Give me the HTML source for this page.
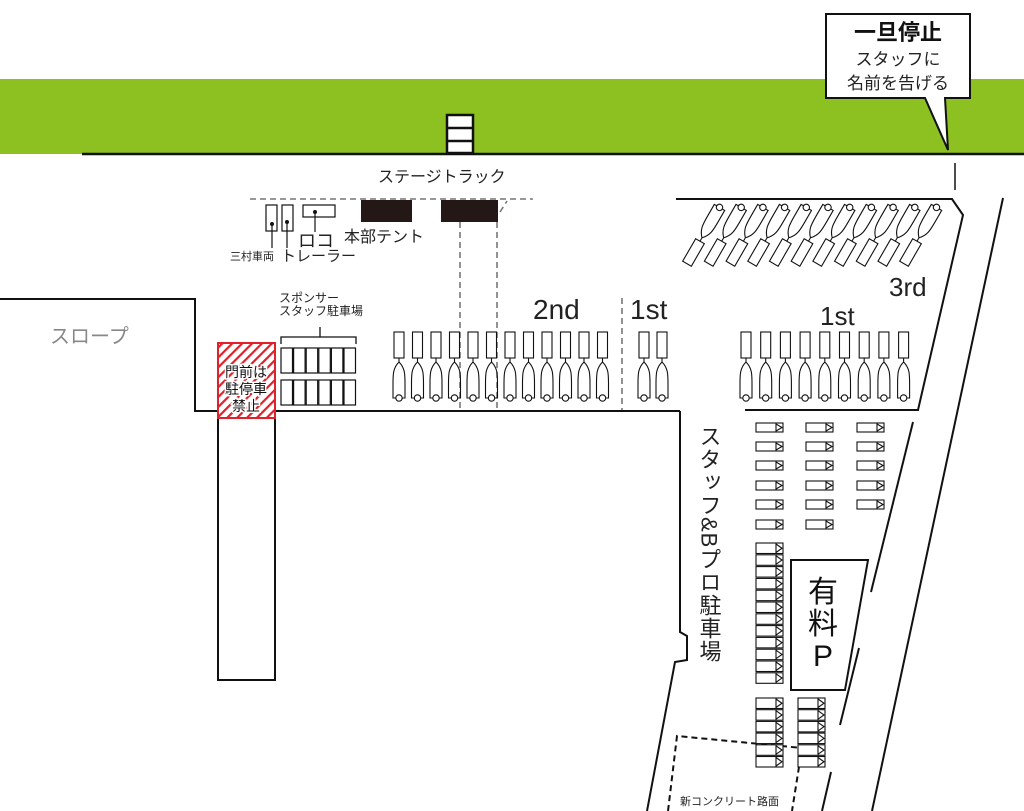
<!DOCTYPE html>
<html><head><meta charset="utf-8">
<style>
html,body{margin:0;padding:0;background:#fff;}
svg{display:block;}
text{font-family:"Liberation Sans","Noto Sans CJK JP",sans-serif;}
</style></head>
<body>
<svg id="s" width="1024" height="811" viewBox="0 0 1024 811" xmlns="http://www.w3.org/2000/svg">
<defs>
<pattern id="hatch" patternUnits="userSpaceOnUse" width="7" height="7" patternTransform="rotate(45)">
<rect width="7" height="7" fill="#fff"/><rect width="2.2" height="7" fill="#e0202a"/>
</pattern>
</defs>
<rect x="0" y="79" width="1024" height="75" fill="#8dc021"/>
<line x1="82" y1="154" x2="1024" y2="154" stroke="#111" stroke-width="2.5"/>
<rect x="447" y="115" width="26" height="38" fill="#fff" stroke="#111" stroke-width="2.5"/>
<line x1="447" y1="128" x2="473" y2="128" stroke="#111" stroke-width="2.5"/>
<line x1="447" y1="141" x2="473" y2="141" stroke="#111" stroke-width="2.5"/>
<text x="378" y="182" font-size="16" fill="#222">ステージトラック</text>
<path d="M826,14 L970,14 L970,98 L945,98 L948,150 L925,98 L826,98 Z" fill="#fff" stroke="#111" stroke-width="2"/>
<text x="898" y="40" font-size="22" font-weight="bold" text-anchor="middle" fill="#111">一旦停止</text>
<text x="898" y="65" font-size="17" text-anchor="middle" fill="#222">スタッフに</text>
<text x="898" y="89" font-size="17" text-anchor="middle" fill="#222">名前を告げる</text>
<line x1="955" y1="163" x2="955" y2="190" stroke="#111" stroke-width="1.5"/>
<g fill="none" stroke="#111" stroke-width="2">
<polyline points="0,299 195,299 195,411 218,411"/>
<line x1="275" y1="411" x2="680" y2="411"/>
<polyline points="680,411 680,632 687,636 687,660 675,662 647,811"/>
<rect x="218" y="411" width="57" height="269"/>
<polyline points="676,199 952,199 963,215 918,410 745,410"/>
<line x1="1003" y1="198" x2="872" y2="811"/>
<line x1="913" y1="422" x2="871" y2="592"/>
<line x1="859" y1="648" x2="840" y2="725"/>
<line x1="831" y1="772" x2="822" y2="811"/>
</g>
<g fill="none" stroke="#777" stroke-width="1.6" stroke-dasharray="6,4">
<line x1="250" y1="199" x2="533" y2="199"/>
<line x1="500" y1="212" x2="507" y2="201"/>
<line x1="460" y1="222" x2="460" y2="410"/>
<line x1="497" y1="222" x2="497" y2="410"/>
<line x1="622" y1="298" x2="622" y2="410"/>
</g>
<polyline points="668,811 677,736 802,748 792,811" fill="none" stroke="#111" stroke-width="2" stroke-dasharray="6,4"/>
<text x="680" y="805" font-size="11" fill="#222">新コンクリート路面</text>
<rect x="361" y="200" width="51" height="22" fill="#231815"/>
<rect x="441" y="200" width="57" height="22" fill="#231815"/>
<g fill="none" stroke="#111" stroke-width="1.2">
<rect x="266" y="205" width="11" height="26"/><rect x="282" y="205" width="11" height="26"/>
<rect x="303" y="205" width="32" height="12"/>
<line x1="272" y1="224" x2="272" y2="248"/><line x1="287" y1="222" x2="287" y2="248"/>
<line x1="315" y1="212" x2="315" y2="232"/>
</g>
<circle cx="272" cy="224" r="2" fill="#111"/><circle cx="287" cy="222" r="2" fill="#111"/><circle cx="315" cy="212" r="2" fill="#111"/>
<text x="298" y="247" font-size="18" fill="#222">ロコ</text>
<text x="344" y="242" font-size="16" fill="#222">本部テント</text>
<text x="230" y="260" font-size="11" fill="#222">三村車両</text>
<text x="281" y="261" font-size="15" fill="#222">トレーラー</text>
<text x="279" y="302" font-size="12" fill="#222">スポンサー</text>
<text x="279" y="315" font-size="12" fill="#222">スタッフ駐車場</text>
<polyline points="281,344 281,337 356,337 356,344" fill="none" stroke="#111" stroke-width="1.3"/>
<line x1="320" y1="327" x2="320" y2="337" stroke="#111" stroke-width="1.3"/>
<g id="sp" fill="none" stroke="#111" stroke-width="1.2"></g>
<text x="50" y="343" font-size="20" fill="#888">スロープ</text>
<text x="533" y="319" font-size="28" fill="#222">2nd</text>
<text x="630" y="319" font-size="28" fill="#222">1st</text>
<text x="820" y="325" font-size="26" fill="#222">1st</text>
<text x="889" y="296" font-size="26" fill="#222">3rd</text>
<rect x="218" y="343" width="57" height="75" fill="url(#hatch)" stroke="#e0202a" stroke-width="2"/>
<g font-size="14" fill="#111" text-anchor="middle" stroke="#fff" stroke-width="3" paint-order="stroke">
<text x="246" y="377">門前は</text><text x="246" y="394">駐停車</text><text x="246" y="411">禁止</text>
</g>
<g id="cars" fill="none" stroke="#111" stroke-width="1.1"></g>
<polygon points="791,560 868,560 845,690 791,690" fill="#fff" stroke="#111" stroke-width="2"/>
<text x="823" y="602" font-size="30" text-anchor="middle" fill="#111">有</text>
<text x="823" y="634" font-size="30" text-anchor="middle" fill="#111">料</text>
<text x="823" y="666" font-size="30" text-anchor="middle" fill="#111">P</text>
<text x="709" y="425" font-size="22" fill="#222" style="writing-mode:vertical-rl;letter-spacing:1px">スタッフ&amp;Bプロ駐車場</text>
</svg>
<script>
var NS="http://www.w3.org/2000/svg";
function el(p,t,a){var e=document.createElementNS(NS,t);for(var k in a)e.setAttribute(k,a[k]);p.appendChild(e);return e;}
var sp=document.getElementById('sp');
for(var r=0;r<2;r++)for(var i=0;i<6;i++)el(sp,'rect',{x:281+i*12.6,y:348+r*32,width:11.5,height:25});
var cars=document.getElementById('cars');
function car(g,x){
 var cx=x+5;
 el(g,'rect',{x:x,y:332,width:10,height:26});
 el(g,'path',{d:'M'+cx+',358 L'+cx+',362 C'+(x-1)+',368 '+(x-1)+',374 '+(x-1)+',384 L'+(x-1)+',398 L'+(x+11)+',398 L'+(x+11)+',384 C'+(x+11)+',374 '+(x+11)+',368 '+cx+',362'});
 el(g,'circle',{cx:cx,cy:398,r:3.2,fill:'#fff'});
}
for(var i=0;i<12;i++)car(cars,394+i*18.5);
car(cars,639);car(cars,657);
for(var i=0;i<9;i++)car(cars,741+i*19.7);
for(var i=0;i<11;i++){
 var g=el(cars,'g',{transform:'translate('+(703+i*21.7)+',236) rotate(30)'});
 el(g,'rect',{x:-5,y:6,width:10,height:26});
 el(g,'path',{d:'M0,6 L0,2 C-6,-4 -6,-10 -6,-20 L-6,-33 L6,-33 L6,-20 C6,-10 6,-4 0,2'});
 el(g,'circle',{cx:0,cy:-33,r:3.2,fill:'#fff'});
}
function bay(x,y,h){
 el(cars,'rect',{x:x,y:y,width:27,height:h,fill:'#fff'});
 el(cars,'line',{x1:x+20,y1:y,x2:x+20,y2:y+h});
 el(cars,'polyline',{points:(x+20)+','+(y+1)+' '+(x+26)+','+(y+h/2)+' '+(x+20)+','+(y+h-1)});
}
var rows=[423,442,461,481,500,520];
for(var i=0;i<6;i++){bay(756,rows[i],9);bay(806,rows[i],9);if(i<5)bay(857,rows[i],9);}
for(var i=0;i<12;i++)bay(756,543+i*11.8,10.5);
for(var i=0;i<6;i++){bay(756,698+i*11.7,10.5);bay(798,698+i*11.7,10.5);}
</script>
</body></html>
